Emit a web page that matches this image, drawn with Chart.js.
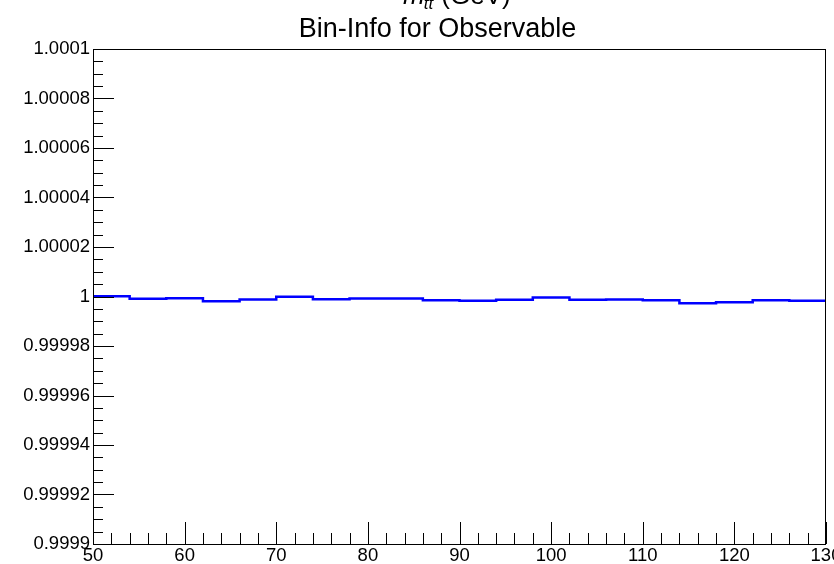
<!DOCTYPE html>
<html>
<head>
<meta charset="utf-8">
<script src="https://cdn.jsdelivr.net/npm/chart.js@4.4.1/dist/chart.umd.min.js"></script>
<style>
  html, body { margin: 0; padding: 0; background: #ffffff; }
  #c { display: block; }
</style>
</head>
<body>
<canvas id="c" width="834" height="564"></canvas>
<script>
// ---- data ----
const binEdges = [50, 54, 58, 62, 66, 70, 74, 78, 82, 86, 90, 94, 98, 102, 106, 110, 114, 118, 122, 126, 130];
const binValues = [
  1.0000001, 0.9999991, 0.9999993, 0.9999981, 0.9999988,
  0.9999999, 0.9999989, 0.9999992, 0.9999992, 0.9999985,
  0.9999983, 0.9999987, 0.9999996, 0.9999987, 0.9999988,
  0.9999985, 0.9999973, 0.9999977, 0.9999985, 0.9999983
];
const xTicks = [50, 60, 70, 80, 90, 100, 110, 120, 130];
const xTickLabels = ['50', '60', '70', '80', '90', '100', '110', '120', '130'];
const yTicks = [0.9999, 0.99992, 0.99994, 0.99996, 0.99998, 1.0, 1.00002, 1.00004, 1.00006, 1.00008, 1.0001];
const yTickLabels = ['0.9999', '0.99992', '0.99994', '0.99996', '0.99998', '1', '1.00002', '1.00004', '1.00006', '1.00008', '1.0001'];
const titleText = 'Bin-Info for Observable';

// step points: each bin value starts at its left edge, last point closes at the right edge
const points = binValues.map((v, i) => ({ x: binEdges[i], y: v }));
points.push({ x: binEdges[binEdges.length - 1], y: binValues[binValues.length - 1] });

const FONT = '"Liberation Sans", Arial, Helvetica, sans-serif';

const rootFrame = {
  id: 'rootFrame',
  afterDatasetsDraw(chart) {
    const ctx = chart.ctx;
    const a = chart.chartArea;
    const xs = chart.scales.x, ys = chart.scales.y;
    ctx.save();
    ctx.strokeStyle = '#000000';
    ctx.lineWidth = 1;
    // frame
    ctx.strokeRect(Math.round(a.left) + 0.5, Math.round(a.top) + 0.5,
                   Math.round(a.right - a.left) - 1, Math.round(a.bottom - a.top));
    ctx.beginPath();
    // x ticks (inward, from the bottom axis)
    const xStepMinor = 2;
    for (let v = xs.min; v <= xs.max + 1e-9; v += xStepMinor) {
      const px = Math.round(xs.getPixelForValue(v)) + 0.5;
      const major = xTicks.some(t => Math.abs(t - v) < 1e-9);
      const len = major ? 22 : 11;
      ctx.moveTo(px, a.bottom);
      ctx.lineTo(px, a.bottom - len);
    }
    // y ticks (inward, from the left axis)
    const yStepMinor = 0.000005;
    const n = Math.round((ys.max - ys.min) / yStepMinor);
    for (let k = 0; k <= n; k++) {
      const v = ys.min + k * yStepMinor;
      const py = Math.round(ys.getPixelForValue(v)) + 0.5;
      const major = (k % 4) === 0;
      const len = major ? 21 : 10;
      ctx.moveTo(a.left, py);
      ctx.lineTo(a.left + len, py);
    }
    ctx.stroke();
    ctx.restore();
  },
  afterDraw(chart) {
    const ctx = chart.ctx;
    ctx.save();
    ctx.fillStyle = '#000000';
    ctx.textBaseline = 'alphabetic';
    // title
    ctx.font = '27px ' + FONT;
    ctx.textAlign = 'center';
    ctx.fillText(titleText, 437.5, 37);
    // x-axis title (cut off at the top of the canvas)
    ctx.textAlign = 'left';
    let x = 403;
    ctx.font = 'italic 26px ' + FONT;
    ctx.fillText('m', x, 4);
    x += ctx.measureText('m').width - 1;
    ctx.font = 'italic 17px ' + FONT;
    ctx.fillText('tt', x, 9);
    x += ctx.measureText('tt').width + 1;
    ctx.font = '26px ' + FONT;
    ctx.fillText(' (GeV)', x, 4);
    ctx.restore();
  }
};

new Chart(document.getElementById('c'), {
  type: 'line',
  data: {
    datasets: [{
      data: points,
      stepped: 'before',
      borderColor: '#0000ff',
      borderWidth: 2.5,
      pointRadius: 0,
      fill: false,
      tension: 0
    }]
  },
  options: {
    responsive: false,
    animation: false,
    devicePixelRatio: 1,
    events: [],
    layout: { padding: { top: 49, right: 8, bottom: 0, left: 0 } },
    plugins: {
      legend: { display: false },
      tooltip: { enabled: false },
      title: { display: false }
    },
    scales: {
      x: {
        type: 'linear',
        min: 50,
        max: 130,
        afterBuildTicks(scale) { scale.ticks = xTicks.map(v => ({ value: v })); },
        afterFit(scale) { scale.height = 20; scale.paddingLeft = 0; scale.paddingRight = 0; },
        grid: { display: false, drawTicks: false },
        border: { display: false },
        ticks: {
          autoSkip: false,
          maxRotation: 0,
          padding: 1,
          color: '#000000',
          font: { family: FONT, size: 18.5 },
          callback(v, i) { return xTickLabels[i]; }
        }
      },
      y: {
        type: 'linear',
        min: 0.9999,
        max: 1.0001,
        afterBuildTicks(scale) { scale.ticks = yTicks.map(v => ({ value: v })); },
        afterFit(scale) { scale.width = 93; scale.paddingTop = 0; scale.paddingBottom = 0; },
        grid: { display: false, drawTicks: false },
        border: { display: false },
        ticks: {
          autoSkip: false,
          padding: 3,
          color: '#000000',
          font: { family: FONT, size: 18.5 },
          callback(v, i) { return yTickLabels[i]; }
        }
      }
    }
  },
  plugins: [rootFrame]
});
</script>
</body>
</html>
